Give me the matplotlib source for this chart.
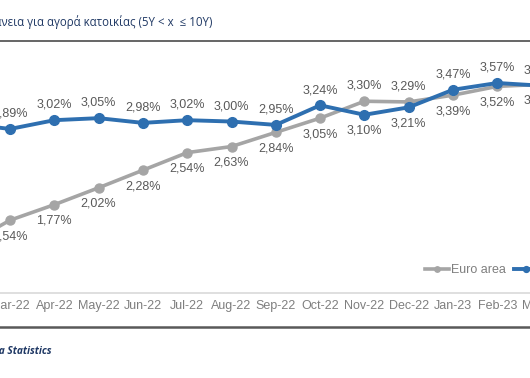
import matplotlib
matplotlib.use("Agg")
import matplotlib.pyplot as plt
from matplotlib.lines import Line2D

# Data (Feb-22 .. Mar-23), comma decimals as in the source
months = ["Feb-22", "Mar-22", "Apr-22", "May-22", "Jun-22", "Jul-22", "Aug-22",
          "Sep-22", "Oct-22", "Nov-22", "Dec-22", "Jan-23", "Feb-23", "Mar-23"]
euro_area = [1.17, 1.54, 1.77, 2.02, 2.28, 2.54, 2.63, 2.84, 3.05, 3.30, 3.29,
             3.39, 3.52, 3.55]
greece = [2.97, 2.89, 3.02, 3.05, 2.98, 3.02, 3.00, 2.95, 3.24, 3.10, 3.21,
          3.47, 3.57, 3.53]
# label placement for the Greece series (True = above point)
greece_above = [True, True, True, True, True, True, True, True, True, False,
                False, True, True, True]

W, H = 530, 378
fig = plt.figure(figsize=(W / 100, H / 100), dpi=100)

# pixel layout
step = 44.3
x_first = 10 - step          # pixel of Feb-22
ax_left = x_first - 0.5 * step
ax_right = x_first + (len(months) - 0.5) * step
ax_top, ax_bottom = 45, 293
px_per_unit = 67.6
y_ref_px, y_ref_val = 83, 3.57
ymin = y_ref_val - (ax_bottom - y_ref_px) / px_per_unit
ymax = y_ref_val + (y_ref_px - ax_top) / px_per_unit

ax = fig.add_axes([ax_left / W, 1 - ax_bottom / H,
                   (ax_right - ax_left) / W, (ax_bottom - ax_top) / H])
ax.set_xlim(-0.5, len(months) - 0.5)
ax.set_ylim(ymin, ymax)

grey = "#a5a5a5"
blue = "#2e6fb0"
x = list(range(len(months)))

ax.plot(x, euro_area, color=grey, lw=2.6, marker="o", ms=6.5,
        label="Euro area", zorder=2)
ax.plot(x, greece, color=blue, lw=2.8, marker="o", ms=7,
        label="Ελλάδα", zorder=3)

def fmt(v):
    return f"{v:.2f}%".replace(".", ",")

for i in x:
    ea_above = not greece_above[i]
    ax.annotate(fmt(euro_area[i]), (i, euro_area[i]), textcoords="offset points",
                xytext=(0, 11 if ea_above else -11.5), ha="center", va="center",
                fontsize=9, color="#595959", family="Liberation Sans")
    ax.annotate(fmt(greece[i]), (i, greece[i]), textcoords="offset points",
                xytext=(0, 11 if greece_above[i] else -11.5), ha="center",
                va="center", fontsize=9, color="#595959", family="Liberation Sans")

for s in ["top", "left", "right"]:
    ax.spines[s].set_visible(False)
ax.spines["bottom"].set_color("#d9d9d9")
ax.spines["bottom"].set_linewidth(1.2)
ax.set_yticks([])
ax.set_xticks(x)
ax.set_xticklabels(months, fontsize=9, color="#7f7f7f", family="Liberation Sans")
ax.tick_params(axis="x", length=0, pad=5)

fig.legend(loc="center left", bbox_to_anchor=(425 / W, 1 - 270 / H), ncol=2,
           frameon=False, borderpad=0, borderaxespad=0, handlelength=1.9,
           handletextpad=0.2, columnspacing=0.6, markerscale=0.6,
           prop={"family": "Liberation Sans", "size": 9}, labelcolor="#7f7f7f")

# header and footer
fig.text(212 / W, 1 - 22 / H,
         "Επιτόκια σε νέα δάνεια για αγορά κατοικίας (5Y < x  ≤ 10Y)",
         ha="right", va="center", fontsize=8.3, color="#1f3864",
         family=["Open Sans", "DejaVu Sans"])
fig.add_artist(Line2D([0, 1], [1 - 41 / H] * 2, transform=fig.transFigure,
                      color="#595959", lw=1.3))
fig.add_artist(Line2D([0, 1], [1 - 327 / H] * 2, transform=fig.transFigure,
                      color="#595959", lw=1.8))
fig.text(52 / W, 1 - 351 / H, "Πηγή: ECB, Euro area Statistics", ha="right",
         va="center", fontsize=7.3, color="#1f3864", style="italic",
         weight="bold", family=["Open Sans", "DejaVu Sans"])

fig.savefig("out.png", dpi=100)
